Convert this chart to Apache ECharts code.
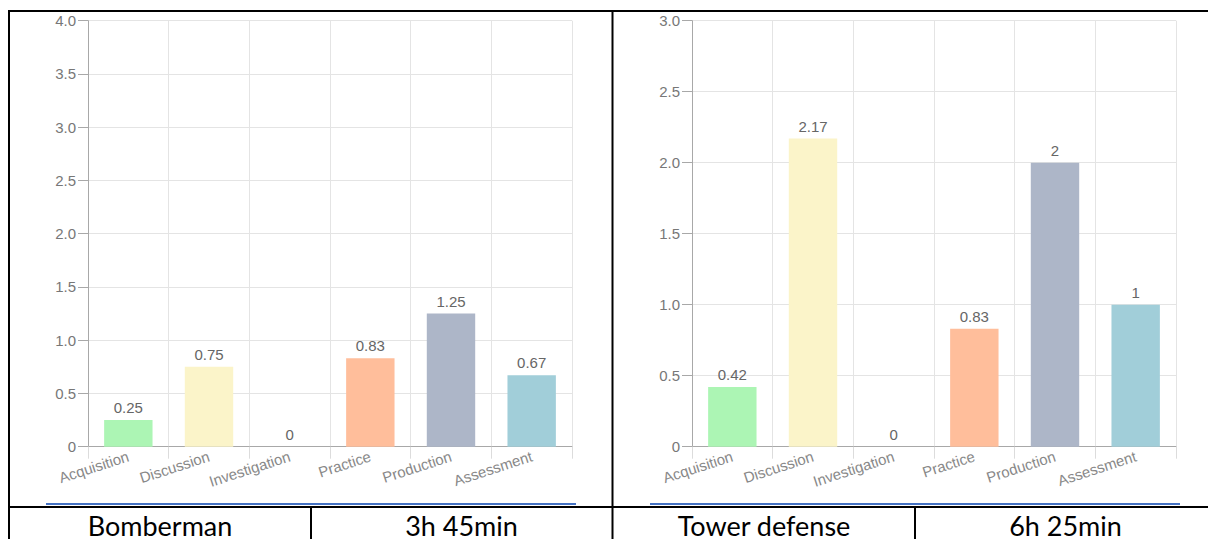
<!DOCTYPE html>
<html>
<head>
<meta charset="utf-8">
<script src="https://cdn.jsdelivr.net/npm/echarts@6/dist/echarts.min.js"></script>
<style>
html,body{margin:0;padding:0;background:#fff;}
#c{width:1208px;height:539px;}
</style>
</head>
<body>
<div id="c"></div>
<script>
const categories = ['Acquisition','Discussion','Investigation','Practice','Production','Assessment'];
const barColors = ['#acf5b4','#fbf4c9','#f4a6a6','#ffbe9b','#adb6c8','#a1ced9'];
const bombermanValues = [0.25, 0.75, 0, 0.83, 1.25, 0.67];
const towerValues = [0.42, 2.17, 0, 0.83, 2, 1];
const bombermanTicks = {min: 0, max: 4, interval: 0.5};
const towerTicks = {min: 0, max: 3, interval: 0.5};
const cellTexts = ['Bomberman', '3h 45min', 'Tower defense', '6h 25min'];

const FONT = "'Liberation Sans', Arial, sans-serif";
const chart = echarts.init(document.getElementById('c'), null, {renderer: 'svg'});

function yAxis(idx, t) {
  return {
    type: 'value', gridIndex: idx, min: t.min, max: t.max, interval: t.interval,
    axisLine: {show: true, lineStyle: {color: '#a8a8a8'}},
    axisTick: {show: true, length: 10, lineStyle: {color: '#a8a8a8'}},
    axisLabel: {color: '#777', fontSize: 15, fontFamily: FONT, margin: 12,
      formatter: v => v === 0 ? '0' : v.toFixed(1)},
    splitLine: {lineStyle: {color: '#e4e4e4'}}
  };
}
function xAxis(idx) {
  return {
    type: 'category', gridIndex: idx, data: categories,
    axisLine: {lineStyle: {color: '#a8a8a8'}},
    axisTick: {show: true, length: 12, lineStyle: {color: '#dcdcdc'}},
    axisLabel: {color: '#888', fontSize: 15, fontFamily: FONT, rotate: 18, margin: 9, interval: 0},
    splitLine: {show: true, lineStyle: {color: '#e4e4e4'}}
  };
}
function series(idx, vals) {
  return {
    type: 'bar', xAxisIndex: idx, yAxisIndex: idx, barWidth: '60%',
    data: vals.map((v, i) => ({value: v, itemStyle: {color: barColors[i]}})),
    label: {show: true, position: 'top', color: '#666', fontSize: 15, fontFamily: FONT, distance: 5},
    silent: true
  };
}

const black = {stroke: '#000', lineWidth: 2};
function line(x1, y1, x2, y2, style) {
  return {type: 'line', shape: {x1, y1, x2, y2}, style: style, silent: true};
}
function txt(x, s) {
  return {type: 'text', x: x, y: 525, silent: true,
    style: {text: s, fill: '#000', font: '27px Lato, "Open Sans", sans-serif', textAlign: 'center', textVerticalAlign: 'middle'}};
}

chart.setOption({
  animation: false,
  grid: [
    {left: 88, top: 20.7, width: 484, height: 426},
    {left: 692, top: 20.7, width: 484, height: 426}
  ],
  xAxis: [xAxis(0), xAxis(1)],
  yAxis: [yAxis(0, bombermanTicks), yAxis(1, towerTicks)],
  series: [series(0, bombermanValues), series(1, towerValues)],
  graphic: [
    line(8, 11, 1208, 11, black),
    line(9, 10, 9, 539, black),
    line(612.5, 10, 612.5, 539, black),
    line(8, 507, 1208, 507, black),
    line(311, 507, 311, 539, black),
    line(915, 507, 915, 539, black),
    line(46, 504, 576, 504, {stroke: '#4472c4', lineWidth: 2}),
    line(650, 504, 1180, 504, {stroke: '#4472c4', lineWidth: 2}),
    txt(160, cellTexts[0]),
    txt(461.5, cellTexts[1]),
    txt(764, cellTexts[2]),
    txt(1065.5, cellTexts[3])
  ]
});
</script>
</body>
</html>
